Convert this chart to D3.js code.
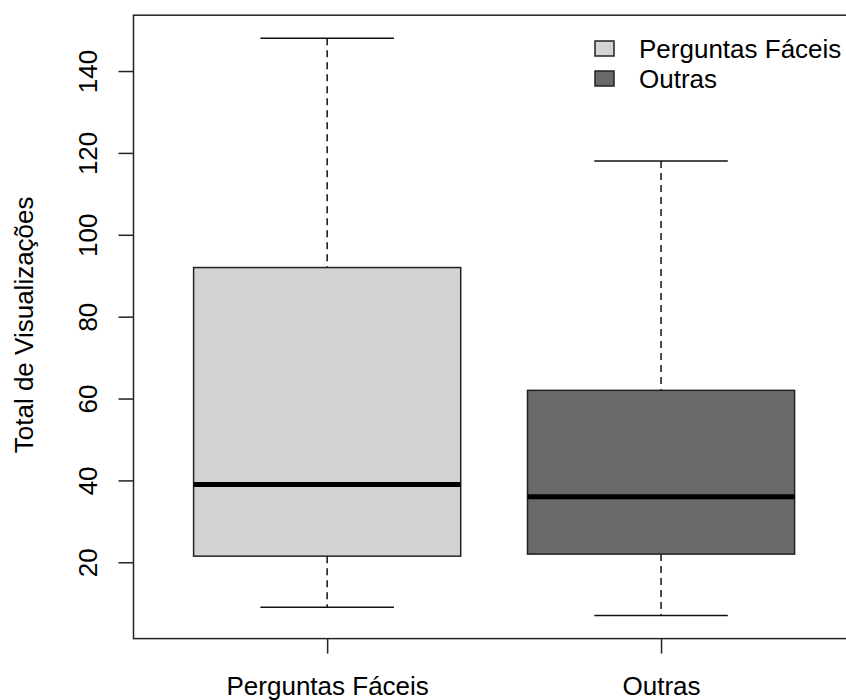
<!DOCTYPE html>
<html>
<head>
<meta charset="utf-8">
<script src="https://cdn.jsdelivr.net/npm/d3@7"></script>
<style>
  html, body { margin: 0; padding: 0; background: #fff; }
  svg { display: block; font-family: "Liberation Sans", Arial, sans-serif; }
</style>
</head>
<body>
<svg id="chart" width="846" height="700"></svg>
<script>
const categories = ["Perguntas Fáceis", "Outras"];
const whiskerLow = [9, 7];
const q1 = [21.5, 22];
const median = [39, 36];
const q3 = [92, 62];
const whiskerHigh = [148, 118];
const fills = ["#d3d3d3", "#696969"];
const yTicks = [20, 40, 60, 80, 100, 120, 140];
const yTitle = "Total de Visualizações";

const svg = d3.select("#chart");
const plot = { left: 133.5, top: 15.2, bottom: 638.6, right: 854.7 };
const fs = 26;

const yMin = 7, yMax = 148, ext = (yMax - yMin) * 0.04;
const y = d3.scaleLinear().domain([yMin - ext, yMax + ext]).range([plot.bottom, plot.top]);
const x = d3.scaleLinear().domain([0.42, 2.58]).range([plot.left, plot.right]);
const boxW = x(0.8) - x(0);

const data = categories.map((c, i) => ({
  c, i, lo: whiskerLow[i], q1: q1[i], med: median[i], q3: q3[i], hi: whiskerHigh[i], fill: fills[i]
}));

const g = svg.append("g");
data.forEach(d => {
  const cx = x(d.i + 1);
  g.append("line").attr("x1", cx).attr("x2", cx).attr("y1", y(d.hi)).attr("y2", y(d.q3))
    .attr("stroke", "#111").attr("stroke-width", 1.5).attr("stroke-dasharray", "7,5");
  g.append("line").attr("x1", cx).attr("x2", cx).attr("y1", y(d.q1)).attr("y2", y(d.lo))
    .attr("stroke", "#111").attr("stroke-width", 1.5).attr("stroke-dasharray", "7,5");
  g.append("line").attr("x1", cx - boxW / 4).attr("x2", cx + boxW / 4).attr("y1", y(d.hi)).attr("y2", y(d.hi))
    .attr("stroke", "#111").attr("stroke-width", 1.5);
  g.append("line").attr("x1", cx - boxW / 4).attr("x2", cx + boxW / 4).attr("y1", y(d.lo)).attr("y2", y(d.lo))
    .attr("stroke", "#111").attr("stroke-width", 1.5);
  g.append("rect").attr("x", cx - boxW / 2).attr("width", boxW)
    .attr("y", y(d.q3)).attr("height", y(d.q1) - y(d.q3))
    .attr("fill", d.fill).attr("stroke", "#222").attr("stroke-width", 1.5);
  g.append("line").attr("x1", cx - boxW / 2).attr("x2", cx + boxW / 2).attr("y1", y(d.med)).attr("y2", y(d.med))
    .attr("stroke", "#000").attr("stroke-width", 5);
});

svg.append("rect").attr("x", plot.left).attr("y", plot.top)
  .attr("width", plot.right - plot.left).attr("height", plot.bottom - plot.top)
  .attr("fill", "none").attr("stroke", "#222").attr("stroke-width", 1.5);

const yAxis = svg.append("g").attr("transform", `translate(${plot.left},0)`)
  .call(d3.axisLeft(y).tickValues(yTicks).tickSize(15).tickFormat(d3.format("d")));
yAxis.select(".domain").remove();
yAxis.selectAll(".tick line").attr("stroke", "#222").attr("stroke-width", 1.5);
yAxis.selectAll(".tick text").attr("font-size", fs).attr("fill", "#000")
  .attr("font-family", "Liberation Sans, Arial, sans-serif")
  .attr("transform", "rotate(-90)").attr("text-anchor", "middle")
  .attr("x", 0).attr("y", -37).attr("dy", 0);

const xAxis = svg.append("g").attr("transform", `translate(0,${plot.bottom})`)
  .call(d3.axisBottom(x).tickValues([1, 2]).tickSize(15).tickFormat((d) => categories[d - 1]));
xAxis.select(".domain").remove();
xAxis.selectAll(".tick line").attr("stroke", "#222").attr("stroke-width", 1.5);
xAxis.selectAll(".tick text").attr("font-size", fs).attr("fill", "#000")
  .attr("font-family", "Liberation Sans, Arial, sans-serif")
  .attr("y", 56).attr("dy", 0);

svg.append("text").attr("transform", `translate(33,${y(78)}) rotate(-90)`)
  .attr("text-anchor", "middle").attr("font-size", fs).attr("fill", "#000").text(yTitle);

const legend = svg.append("g");
categories.forEach((c, i) => {
  const yy = 41 + i * 30;
  legend.append("rect").attr("x", 595).attr("y", yy).attr("width", 19).attr("height", 15)
    .attr("fill", fills[i]).attr("stroke", "#222").attr("stroke-width", 1.5);
  legend.append("text").attr("x", 639).attr("y", yy + 17).attr("font-size", fs).attr("fill", "#000").text(c);
});
</script>
</body>
</html>
